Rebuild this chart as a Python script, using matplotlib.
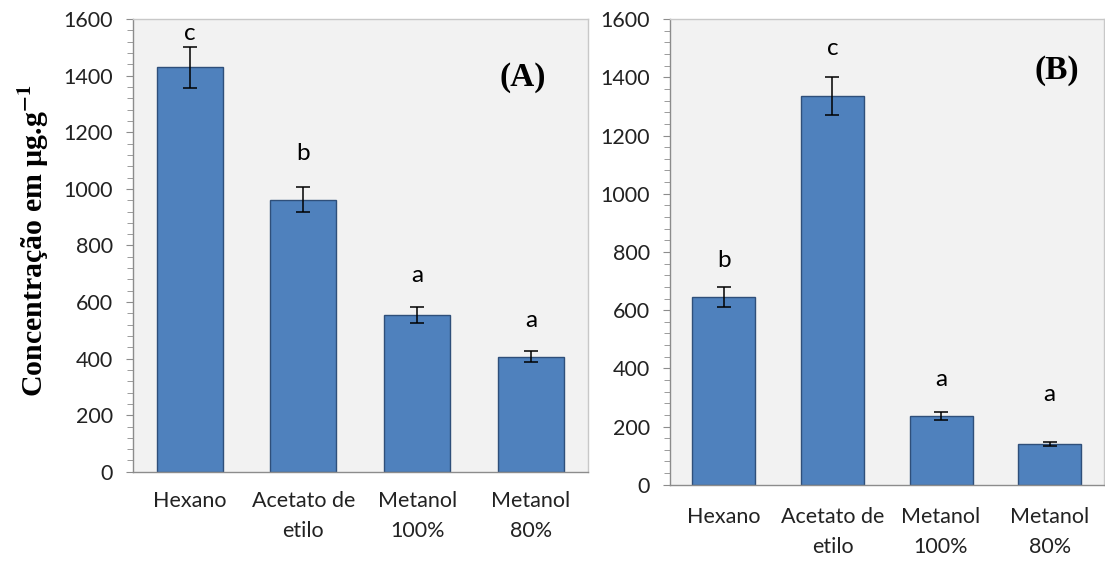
import matplotlib
matplotlib.use("Agg")
import matplotlib.pyplot as plt
from matplotlib.ticker import MultipleLocator

# dados
categorias = ["Hexano", "Acetato de\netilo", "Metanol\n100%", "Metanol\n80%"]

valores_A = [1430, 962, 555, 407]
erros_A = [73, 45, 28, 20]
letras_A = ["c", "b", "a", "a"]
pos_letras_A = [1550, 1125, 695, 535]

valores_B = [645, 1336, 237, 140]
erros_B = [35, 66, 13, 8]
letras_B = ["b", "c", "a", "a"]
pos_letras_B = [770, 1500, 360, 310]

cor_barra = "#4f81bd"
cor_borda = "#2f4f7a"
cor_eixo = "#8c8c8c"
fonte_tick = "Lato"

plt.rcParams["mathtext.fontset"] = "stix"

fig = plt.figure(figsize=(11.05, 5.63), dpi=100)
axA = fig.add_axes([0.120, 0.162, 0.412, 0.804])
axB = fig.add_axes([0.606, 0.139, 0.393, 0.827])


def painel(ax, vals, errs, letras, pos_letras, rotulo, xy_rotulo, xpad):
    x = range(len(categorias))
    ax.set_facecolor("#f2f2f2")
    ax.bar(x, vals, width=0.58, color=cor_barra, edgecolor=cor_borda, linewidth=1.0,
           yerr=errs, capsize=5, error_kw=dict(ecolor="black", elinewidth=1.1, capthick=1.1),
           zorder=2)
    for i, (l, p) in enumerate(zip(letras, pos_letras)):
        ax.text(i, p, l, ha="center", va="center", fontsize=17.5, family=fonte_tick)
    ax.set_xlim(-0.5, len(categorias) - 0.5)
    ax.set_ylim(0, 1600)
    ax.yaxis.set_major_locator(MultipleLocator(200))
    ax.yaxis.set_minor_locator(MultipleLocator(40))
    ax.set_xticks(list(x))
    ax.set_xticklabels(categorias, fontsize=15.5, family=fonte_tick, linespacing=1.62)
    ax.tick_params(axis="x", length=0, pad=xpad)
    ax.tick_params(axis="y", which="major", length=5, color=cor_eixo, pad=9,
                   labelsize=15.5)
    ax.tick_params(axis="y", which="minor", length=4, color=cor_eixo)
    for t in ax.get_yticklabels() + ax.get_xticklabels():
        t.set_family(fonte_tick)
        t.set_color("#222222")
    for s in ax.spines.values():
        s.set_color(cor_eixo)
        s.set_linewidth(1.0)
    for s in ["top", "right"]:
        ax.spines[s].set_color("#c8c8c8")
    ax.text(xy_rotulo[0], xy_rotulo[1], rotulo, transform=ax.transAxes, ha="center",
            va="center", fontsize=24, fontweight="bold", family="Liberation Serif")


painel(axA, valores_A, erros_A, letras_A, pos_letras_A, "(A)", (0.857, 0.872), 14)
painel(axB, valores_B, erros_B, letras_B, pos_letras_B, "(B)", (0.892, 0.89), 16)

fig.text(0.031, 0.572, "Concentração em µg.g$^{\\mathbf{-1}}$", rotation=90, ha="center",
         va="center", fontsize=21.5, fontweight="bold", family="Liberation Serif")

fig.savefig("out.png", dpi=100, facecolor="white")
